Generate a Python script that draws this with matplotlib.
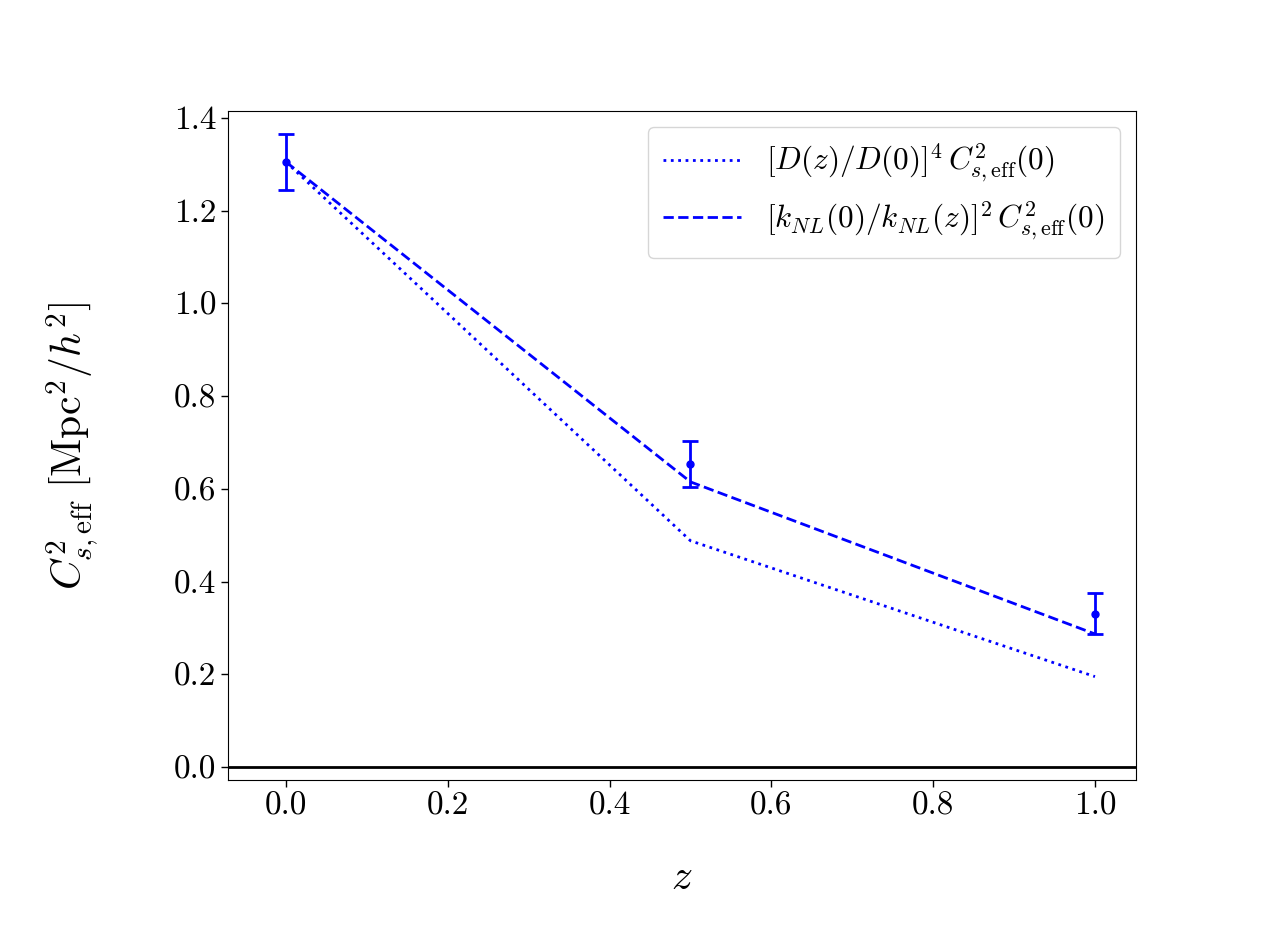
import matplotlib
matplotlib.use("Agg")
import matplotlib.pyplot as plt

plt.rcParams['mathtext.fontset'] = 'cm'
plt.rcParams['font.family'] = 'serif'
plt.rcParams['font.serif'] = ['cmr10', 'DejaVu Serif']
plt.rcParams['axes.formatter.use_mathtext'] = True
plt.rcParams['axes.unicode_minus'] = False

z = [0.0, 0.5, 1.0]
cs2_meas = [1.305, 0.653, 0.331]
cs2_err_lo = [0.06, 0.049, 0.044]
cs2_err_hi = [0.06, 0.050, 0.044]
growth_scaling = [1.305, 0.488, 0.195]
knl_scaling = [1.305, 0.615, 0.287]

xticks = [0.0, 0.2, 0.4, 0.6, 0.8, 1.0]
yticks = [0.0, 0.2, 0.4, 0.6, 0.8, 1.0, 1.2, 1.4]

fig = plt.figure(figsize=(12.63, 9.27), dpi=100)
ax = fig.add_axes([228/1263, 1-780/927, (1136-228)/1263, (780-111)/927])

ax.errorbar(z, cs2_meas, yerr=[cs2_err_lo, cs2_err_hi], fmt='o', color='blue',
            ms=5, capsize=6, elinewidth=2, capthick=2)
ax.plot(z, growth_scaling, ':', color='blue', lw=2,
        label=r'$[D(z)/D(0)]^4\,C^2_{s,\rm eff}(0)$')
ax.plot(z, knl_scaling, '--', color='blue', lw=2,
        label=r'$[k_{NL}(0)/k_{NL}(z)]^2\,C^2_{s,\rm eff}(0)$')
ax.axhline(0.0, color='black', lw=2)

ax.set_xlim(-0.0717, 1.0507)
ax.set_ylim(-0.028, 1.415)
ax.set_xticks(xticks)
ax.set_yticks(yticks)
ax.set_xticklabels([f'{v:.1f}' for v in xticks])
ax.set_yticklabels([f'{v:.1f}' for v in yticks])
ax.tick_params(labelsize=24, length=5, width=1)

ax.set_xlabel(r'$z$', fontsize=30, labelpad=28)
ax.set_ylabel(r'$C^2_{s,\rm eff}\ [{\rm Mpc}^2/h^2]$', fontsize=30, labelpad=52)

ax.legend(loc='upper right', fontsize=22.5, framealpha=0.8, handlelength=2.5,
          borderpad=0.5, labelspacing=0.45)

fig.savefig('out.png', dpi=100)
